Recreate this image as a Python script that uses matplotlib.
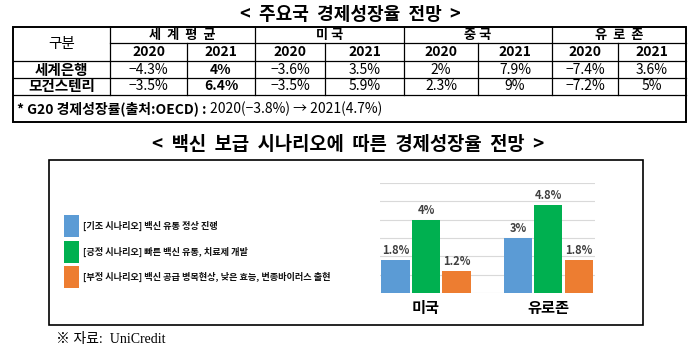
import matplotlib
matplotlib.use("Agg")
import matplotlib.pyplot as plt
from matplotlib.patches import Rectangle

plt.rcParams['font.family'] = ['Noto Sans CJK KR', 'DejaVu Sans']

# table data
regions = ['세계평균', '미국', '중국', '유로존']
years = ['2020', '2021']
row_labels = ['세계은행', '모건스텐리']
wb_values = ['−4.3%', '4%', '−3.6%', '3.5%', '2%', '7.9%', '−7.4%', '3.6%']
ms_values = ['−3.5%', '6.4%', '−3.5%', '5.9%', '2.3%', '9%', '−7.2%', '5%']
note_bold = '* G20 경제성장률(출처:OECD) : '
note_plain = '2020(−3.8%) → 2021(4.7%)'

# chart data
countries = ['미국', '유로존']
scenarios = ['[기초 시나리오] 백신 유통 정상 진행',
             '[긍정 시나리오] 빠른 백신 유통, 치료제 개발',
             '[부정 시나리오] 백신 공급 병목현상, 낮은 효능, 변종바이러스 출현']
base = [1.8, 3.0]
positive = [4.0, 4.8]
negative = [1.2, 1.8]
colors = ['#5B9BD5', '#00B050', '#ED7D31']

fig = plt.figure(figsize=(7, 3.56), dpi=100)
bg = fig.add_axes([0, 0, 1, 1])
bg.set_xlim(0, 700)
bg.set_ylim(356, 0)
bg.axis('off')

# ---- top title and table ----
bg.text(350, 14, '<  주요국  경제성장율  전망  >', ha='center', va='center',
        fontsize=13, fontweight='bold')

cols = [13, 110, 187, 255, 325, 404, 478, 552, 618, 686]
rows = [27, 43, 61, 78, 95, 122]

bg.add_patch(Rectangle((cols[0], rows[0]), cols[-1] - cols[0], rows[-1] - rows[0],
                       fill=False, lw=1.4, ec='black'))
# horizontal lines
bg.plot([cols[1], cols[-1]], [rows[1], rows[1]], color='black', lw=0.9)
for y in rows[2:5]:
    bg.plot([cols[0], cols[-1]], [y, y], color='black', lw=0.9)
# vertical lines
for i, x in enumerate(cols[1:-1], start=1):
    y0 = rows[0] if i % 2 == 1 else rows[1]
    bg.plot([x, x], [y0, rows[4]], color='black', lw=0.9)

bg.text((cols[0] + cols[1]) / 2, (rows[0] + rows[2]) / 2, '구분', ha='center',
        va='center', fontsize=10.5)
for i, r in enumerate(regions):
    xc = (cols[1 + 2 * i] + cols[3 + 2 * i]) / 2
    bg.text(xc, (rows[0] + rows[1]) / 2, '  '.join(r) if len(r) > 2 else ' '.join(r),
            ha='center', va='center', fontsize=9.5, fontweight='bold')
    for j, yr in enumerate(years):
        xc = (cols[1 + 2 * i + j] + cols[2 + 2 * i + j]) / 2
        bg.text(xc, (rows[1] + rows[2]) / 2, yr, ha='center', va='center',
                fontsize=10, fontweight='bold')

for k, (lab, vals) in enumerate(zip(row_labels, [wb_values, ms_values])):
    yc = (rows[2 + k] + rows[3 + k]) / 2
    bg.text((cols[0] + cols[1]) / 2, yc, lab, ha='center', va='center',
            fontsize=10.5, fontweight='bold')
    for c, v in enumerate(vals):
        xc = (cols[1 + c] + cols[2 + c]) / 2
        bg.text(xc, yc, v, ha='center', va='center', fontsize=10,
                fontweight='bold' if c == 1 else 'normal')

t = bg.text(17, (rows[4] + rows[5]) / 2, note_bold, ha='left', va='center',
            fontsize=10, fontweight='bold')
fig.canvas.draw()
bb = t.get_window_extent()
x_end = bb.x1 * 700 / fig.bbox.width
bg.text(x_end, (rows[4] + rows[5]) / 2, note_plain, ha='left', va='center',
        fontsize=10)

# ---- second title and chart box ----
bg.text(348, 145, '<  백신  보급  시나리오에  따른  경제성장율  전망  >', ha='center',
        va='center', fontsize=13.5, fontweight='bold')
bg.add_patch(Rectangle((49, 160), 643 - 49, 325 - 160, fill=False, lw=1.2, ec='black'))

for i, (lab, col) in enumerate(zip(scenarios, colors)):
    yc = 226 + i * 25.5
    bg.add_patch(Rectangle((64, yc - 11), 15, 22, color=col, lw=0))
    bg.text(83, yc, lab, ha='left', va='center', fontsize=6.6, fontweight='bold',
            color='#111111')

bg.text(56, 340, '※ 자료:  UniCredit', ha='left', va='center', fontsize=10,
        family=['Liberation Serif', 'Noto Sans CJK KR'])

# ---- bar chart ----
ax = fig.add_axes([380 / 700, (356 - 293) / 356, (595 - 380) / 700, (293 - 183) / 356])
pitch = 0.249
width = 0.229
for s, (vals, col) in enumerate(zip([base, positive, negative], colors)):
    xs = [g + (s - 1) * pitch for g in range(len(countries))]
    ax.bar(xs, vals, width=width, color=col, zorder=3)
    for x, v in zip(xs, vals):
        ax.text(x, v + 0.15, f'{v:g}%', ha='center', va='bottom', fontsize=8,
                fontweight='bold', color='#404040', zorder=4)

ax.set_xlim(-0.3755, 1.38)
ax.set_ylim(0, 6)
ax.set_yticks(range(0, 7))
ax.yaxis.grid(True, color='#D9D9D9', lw=0.8, zorder=0)
ax.set_xticks(range(len(countries)))
ax.set_xticklabels(countries, fontsize=11, fontweight='bold')
ax.tick_params(axis='x', length=0, pad=5)
ax.tick_params(axis='y', length=0, labelleft=False)
for sp in ax.spines.values():
    sp.set_visible(False)
ax.patch.set_alpha(0)

fig.savefig('out.png', dpi=100)
